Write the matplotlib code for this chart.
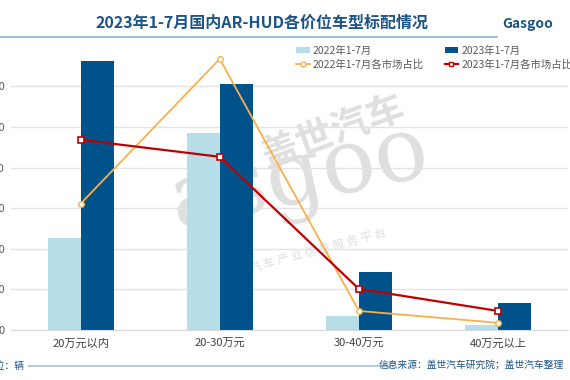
import matplotlib
matplotlib.use("Agg")
import matplotlib.pyplot as plt
from matplotlib.lines import Line2D
from matplotlib.patches import Patch

plt.rcParams['font.family'] = ['Noto Sans CJK SC', 'DejaVu Sans']

categories = ['20万元以内', '20-30万元', '30-40万元', '40万元以上']
sales_2022 = [22600, 48600, 3400, 1300]
sales_2023 = [66300, 60500, 14400, 6600]
share_2022 = [0.298, 0.640, 0.045, 0.017]
share_2023 = [0.449, 0.409, 0.097, 0.045]
y_ticks = [0, 10000, 20000, 30000, 40000, 50000, 60000]

W, H = 570, 380
fig = plt.figure(figsize=(W / 100, H / 100), dpi=100)
fig.patch.set_facecolor('white')

def fx(x):
    return x / W

def fy(y):
    return 1 - y / H

ax_left, ax_right = 11, 567.6
ax_bottom, ax_top = 330, 45.8
ax = fig.add_axes([fx(ax_left), fy(ax_bottom), (ax_right - ax_left) / W, (ax_bottom - ax_top) / H])
ax.patch.set_alpha(0)

c22 = '#B7DDE8'
c23 = '#00538A'
lc22 = '#F9B04C'
lc23 = '#C00000'

x = list(range(len(categories)))
bw = 0.237
ax.bar([i - bw / 2 for i in x], sales_2022, width=bw, color=c22, zorder=2)
ax.bar([i + bw / 2 for i in x], sales_2023, width=bw, color=c23, zorder=2)
ax.set_xlim(-0.5, 3.5)
ax.set_ylim(0, 70000)
ax.set_yticks(y_ticks)
ax.set_yticklabels([str(v) for v in y_ticks])
ax.grid(axis='y', color='#E3E3E3', linewidth=1, zorder=0)
ax.set_axisbelow(True)
ax.set_xticks(x)
ax.set_xticklabels(categories)
ax.tick_params(axis='x', length=0, pad=6.5, labelsize=8, labelcolor='#404040')
ax.tick_params(axis='y', length=0, pad=4.3, labelsize=8, labelcolor='#595959')
for s in ['top', 'right', 'left']:
    ax.spines[s].set_visible(False)
ax.spines['bottom'].set_color('#D9D9D9')

ax2 = ax.twinx()
ax2.set_ylim(0, 0.671)
ax2.plot(x, share_2022, color=lc22, linewidth=1.3, marker='o', markersize=4,
         markerfacecolor='white', markeredgecolor=lc22, markeredgewidth=1.0, zorder=3)
ax2.plot(x, share_2023, color=lc23, linewidth=1.6, marker='s', markersize=4,
         markerfacecolor='white', markeredgecolor=lc23, markeredgewidth=1.2, zorder=3)
ax2.axis('off')

# watermark (behind the axes)
wm = '#DFDFDF'
fig.text(fx(300), fy(178), 'asgoo', fontsize=64, family='DejaVu Serif', color=wm,
         rotation=12, ha='center', va='center', zorder=-1)
fig.text(fx(333), fy(132), '盖世汽车', fontsize=27, fontweight='bold', color=wm,
         rotation=20, ha='center', va='center', zorder=-1)
fig.text(fx(318), fy(250), '汽 车 产 业 信 息 服 务 平 台', fontsize=8.5, color=wm,
         rotation=15, ha='center', va='center', zorder=-1)

# title
fig.text(fx(262), fy(23), '2023年1-7月国内AR-HUD各价位车型标配情况', fontsize=11.5,
         fontweight='bold', color='#1B5486', ha='center', va='center')
fig.add_artist(Line2D([0, fx(497)], [fy(36.5), fy(36.5)], color='#8DB4CF', linewidth=1.2))
fig.text(fx(502), fy(24), 'Gasgoo', fontsize=10, fontweight='bold', style='italic',
         color='#1B5486', ha='left', va='center')

# legend
handles = [
    Patch(facecolor=c22, edgecolor='none'),
    Line2D([], [], color=lc22, linewidth=1.3, marker='o', markersize=3.5,
           markerfacecolor='white', markeredgecolor=lc22),
    Patch(facecolor=c23, edgecolor='none'),
    Line2D([], [], color=lc23, linewidth=1.6, marker='s', markersize=3.5,
           markerfacecolor='white', markeredgecolor=lc23),
]
labels = ['2022年1-7月', '2022年1-7月各市场占比', '2023年1-7月', '2023年1-7月各市场占比']
leg = fig.legend(handles, labels, ncol=2, loc='upper left',
                 bbox_to_anchor=(fx(296), fy(45.5)), frameon=False, fontsize=7.5,
                 handlelength=1.3, handleheight=0.65, columnspacing=2.0,
                 labelspacing=0.35, handletextpad=0.3, borderaxespad=0, borderpad=0)
for t in leg.get_texts():
    t.set_color('#595959')

# footer
fig.text(fx(24), fy(365.5), '单位：辆', fontsize=7, style='italic', color='#1B5486',
         ha='right', va='center')
fig.add_artist(Line2D([fx(29), fx(389)], [fy(365.5), fy(365.5)], color='#B4CCDC', linewidth=1.5))
fig.text(fx(564), fy(365.5), '信息来源：盖世汽车研究院；盖世汽车整理', fontsize=7, style='italic',
         color='#1B5486', ha='right', va='center')

fig.savefig('out.png', dpi=100)
